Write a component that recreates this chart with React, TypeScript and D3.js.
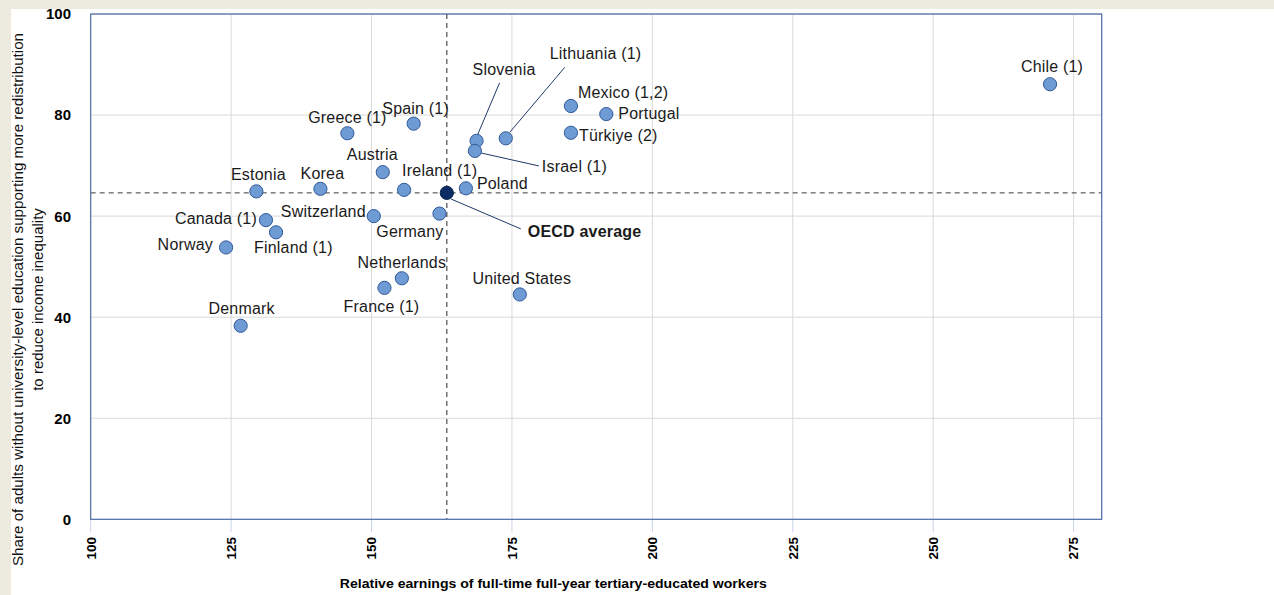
import * as d3 from 'd3';
import React from 'react';

const countries = [
  'Chile (1)', 'Mexico (1,2)', 'Portugal', 'Türkiye (2)', 'Lithuania (1)', 'Slovenia', 'Israel (1)',
  'Spain (1)', 'Greece (1)', 'Austria', 'Ireland (1)', 'Korea', 'Estonia', 'Poland', 'Germany',
  'Switzerland', 'Canada (1)', 'Finland (1)', 'Norway', 'Netherlands', 'France (1)', 'United States', 'Denmark',
];
const earnings = [
  270.8, 185.5, 191.8, 185.5, 173.9, 168.7, 168.4,
  157.5, 145.7, 152.0, 155.8, 140.9, 129.5, 166.8, 162.1,
  150.4, 131.2, 133.0, 124.1, 155.4, 152.3, 176.4, 126.7,
];
const support = [
  86.1, 81.8, 80.2, 76.5, 75.4, 74.9, 72.9,
  78.3, 76.4, 68.7, 65.2, 65.4, 64.9, 65.5, 60.5,
  60.0, 59.2, 56.8, 53.8, 47.7, 45.8, 44.5, 38.3,
];
const oecdLabel = 'OECD average';
const oecdEarnings = 163.4;
const oecdSupport = 64.6;

const xTicks = [100, 125, 150, 175, 200, 225, 250, 275];
const yTicks = [0, 20, 40, 60, 80, 100];

// label placement, px offsets from the marker
type Lab = { dx: number; dy: number; anchor: 'start' | 'middle' | 'end'; lead?: [number, number, number, number] };
const labelPos: Record<string, Lab> = {
  'Chile (1)': { dx: 2, dy: -12, anchor: 'middle' },
  'Mexico (1,2)': { dx: 7, dy: -8, anchor: 'start' },
  'Portugal': { dx: 12, dy: 5, anchor: 'start' },
  'Türkiye (2)': { dx: 8, dy: 8, anchor: 'start' },
  'Lithuania (1)': { dx: 44, dy: -79, anchor: 'start', lead: [4, -6, 59, -71] },
  'Slovenia': { dx: -4, dy: -66, anchor: 'start', lead: [1, -6, 23, -58] },
  'Israel (1)': { dx: 67, dy: 21, anchor: 'start', lead: [6, 2, 64, 15] },
  'Spain (1)': { dx: 2, dy: -10, anchor: 'middle' },
  'Greece (1)': { dx: 0, dy: -10, anchor: 'middle' },
  'Austria': { dx: -36, dy: -12, anchor: 'start' },
  'Ireland (1)': { dx: -2, dy: -14, anchor: 'start' },
  'Korea': { dx: 2, dy: -10, anchor: 'middle' },
  'Estonia': { dx: 2, dy: -11, anchor: 'middle' },
  'Poland': { dx: 11, dy: 1, anchor: 'start' },
  'Germany': { dx: 4, dy: 23, anchor: 'end' },
  'Switzerland': { dx: -8, dy: 1, anchor: 'end' },
  'Canada (1)': { dx: -9, dy: 4, anchor: 'end' },
  'Finland (1)': { dx: -22, dy: 21, anchor: 'start' },
  'Norway': { dx: -13, dy: 3, anchor: 'end' },
  'Netherlands': { dx: 0, dy: -10, anchor: 'middle' },
  'France (1)': { dx: -3, dy: 24, anchor: 'middle' },
  'United States': { dx: 2, dy: -10, anchor: 'middle' },
  'Denmark': { dx: 1, dy: -12, anchor: 'middle' },
  'OECD average': { dx: 81, dy: 44, anchor: 'start', lead: [4, 6, 74, 36] },
};

const font = 'Liberation Sans, Arial, sans-serif';

const App: React.FC = () => {
  const width = 1274;
  const height = 595;
  const margin = { top: 14, right: 172.3, bottom: 75.7, left: 90.7 };
  const innerWidth = width - margin.left - margin.right;
  const innerHeight = height - margin.top - margin.bottom;

  const x = d3.scaleLinear().domain([100, 280]).range([0, innerWidth]);
  const y = d3.scaleLinear().domain([0, 100]).range([innerHeight, 0]);

  const renderLabel = (name: string, px: number, py: number, bold = false) => {
    const l = labelPos[name];
    return (
      <g key={`lab-${name}`}>
        {l.lead && (
          <line x1={px + l.lead[0]} y1={py + l.lead[1]} x2={px + l.lead[2]} y2={py + l.lead[3]} stroke="#1f3a6b" strokeWidth={1} />
        )}
        <text
          x={px + l.dx}
          y={py + l.dy}
          textAnchor={l.anchor}
          fontSize={16}
          letterSpacing={0.2}
          fontWeight={bold ? 'bold' : 'normal'}
          fill="#1a1a1a"
        >
          {name}
        </text>
      </g>
    );
  };

  return (
    <svg width={width} height={height} style={{ position: 'absolute', left: 0, top: 0 }} fontFamily={font}>
      <rect width={width} height={height} fill="#edebe0" />
      <rect x={11} y={9} width={width - 11} height={height - 9} fill="#ffffff" />

      <g transform={`translate(${margin.left},${margin.top})`}>
        {xTicks.slice(1).map((t) => (
          <line key={`gx-${t}`} x1={x(t)} x2={x(t)} y1={0} y2={innerHeight} stroke="#d9d9d9" />
        ))}
        {yTicks.slice(1).map((t) => (
          <line key={`gy-${t}`} x1={0} x2={innerWidth} y1={y(t)} y2={y(t)} stroke="#d9d9d9" />
        ))}

        <line x1={0} x2={innerWidth} y1={y(oecdSupport)} y2={y(oecdSupport)} stroke="#3a3a3a" strokeDasharray="5,4" />
        <line x1={x(oecdEarnings)} x2={x(oecdEarnings)} y1={0} y2={innerHeight} stroke="#5a5a5a" strokeWidth={1.3} strokeDasharray="5,4" />

        <rect x={0} y={0} width={innerWidth} height={innerHeight} fill="none" stroke="#4a6aa3" strokeWidth={1.2} />

        {xTicks.map((t) => (
          <g key={`xt-${t}`} transform={`translate(${x(t)},${innerHeight})`}>
            <line y1={1} y2={13} stroke="#c8d4ea" />
            <text
              transform={`translate(0,${537 - margin.top - innerHeight}) rotate(-90)`}
              textAnchor="end"
              dy="0.36em"
              fontSize={13.5}
              fontWeight="bold"
              fill="#000"
            >
              {t}
            </text>
          </g>
        ))}
        {yTicks.map((t) => (
          <text
            key={`yt-${t}`}
            x={71 - margin.left}
            y={y(t)}
            dy="0.36em"
            textAnchor="end"
            fontSize={15}
            fontWeight="bold"
            fill="#000"
          >
            {t}
          </text>
        ))}

        {countries.map((c, i) => renderLabel(c, x(earnings[i]), y(support[i])))}
        {renderLabel(oecdLabel, x(oecdEarnings), y(oecdSupport), true)}

        {countries.map((c, i) => (
          <circle key={`pt-${c}`} cx={x(earnings[i])} cy={y(support[i])} r={6.6} fill="#6f9bd4" stroke="#30599a" strokeWidth={1} />
        ))}
        <circle cx={x(oecdEarnings)} cy={y(oecdSupport)} r={6.6} fill="#0b2d63" stroke="#08234f" strokeWidth={1} />
      </g>

      <text x={553.3} y={588} textAnchor="middle" fontSize={13} fontWeight="bold" textLength={427} lengthAdjust="spacingAndGlyphs" fill="#000">
        Relative earnings of full-time full-year tertiary-educated workers
      </text>
      <g transform="translate(23.3,299.5) rotate(-90)">
        <text x={0} y={0} textAnchor="middle" fontSize={15} textLength={533} lengthAdjust="spacingAndGlyphs" fill="#111">
          Share of adults without university-level education supporting more redistribution
        </text>
        <text x={0} y={20} textAnchor="middle" fontSize={15} fill="#111">
          to reduce income inequality
        </text>
      </g>
    </svg>
  );
};

export default App;
